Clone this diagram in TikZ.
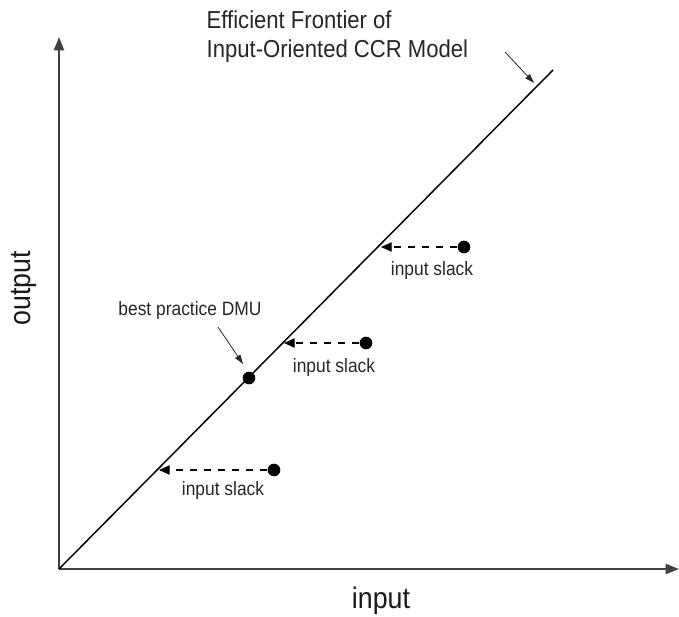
\documentclass[tikz,border=0pt]{standalone}
\usepackage{fontspec}
\newfontfamily\narrowsf[FakeStretch=0.9]{Liberation Sans}
\usetikzlibrary{arrows.meta}

\tikzset{
  dot/.style={circle, fill=black, inner sep=0pt, minimum size=9.5pt},
  slack/.style={font=\narrowsf\fontsize{14.5}{16}\selectfont, text=black!85, anchor=base},
  axislabel/.style={font=\narrowsf\fontsize{22.3}{26}\selectfont, text=black!90},
  slackarrow/.style={draw, thick, dashed, dash pattern=on 5.5pt off 5pt, -{Triangle[length=8pt,width=7pt]}},
  pointer/.style={draw, semithick, black!85, -{Triangle[length=7pt,width=4.5pt]}}
}

\begin{document}
\begin{tikzpicture}[x=0.75pt, y=-0.75pt]
\useasboundingbox (0,0) rectangle (679,617);

% axes
\coordinate (O) at (59,569);
\coordinate (ytop) at (59,37);
\coordinate (xend) at (679,569);
\path[draw, line width=1.5pt, black!75, -{Triangle[length=10pt,width=7.5pt]}] (O) -- (ytop);
\path[draw, line width=1.5pt, black!75, -{Triangle[length=10pt,width=7.5pt]}] (O) -- (xend);
\node[axislabel, anchor=base] (xlab) at (381,608) {input};
\node[axislabel, rotate=90, anchor=base] (ylab) at (31,288) {output};

% frontier
\coordinate (F) at (553,70);
\path[draw, line width=1.1pt] (O) -- (F);
\node[font=\narrowsf\fontsize{18.4}{21.5}\selectfont, text=black!85, align=left, anchor=north west] (title) at (202,6)
  {Efficient Frontier of\\Input-Oriented CCR Model};
\coordinate (fp0) at (505,52);
\coordinate (fp1) at (534,83);
\path[pointer] (fp0) -- (fp1);

% best practice DMU
\node[dot] (best) at (249,378) {};
\node[slack] (bestlab) at (190,315) {best practice DMU};
\coordinate (bp0) at (218,327);
\coordinate (bp1) at (243,364);
\path[pointer] (bp0) -- (bp1);

% inefficient DMUs
\node[dot] (d1) at (464,247) {};
\node[dot] (d2) at (366,343) {};
\node[dot] (d3) at (274,470) {};
\coordinate (t1) at (381,247);
\coordinate (t2) at (284,343);
\coordinate (t3) at (159,470);
\path[slackarrow] (d1) -- (t1);
\path[slackarrow] (d2) -- (t2);
\path[slackarrow] (d3) -- (t3);
\node[slack] (s1) at (432,275) {input slack};
\node[slack] (s2) at (334,372) {input slack};
\node[slack] (s3) at (223,495) {input slack};
\end{tikzpicture}
\end{document}
